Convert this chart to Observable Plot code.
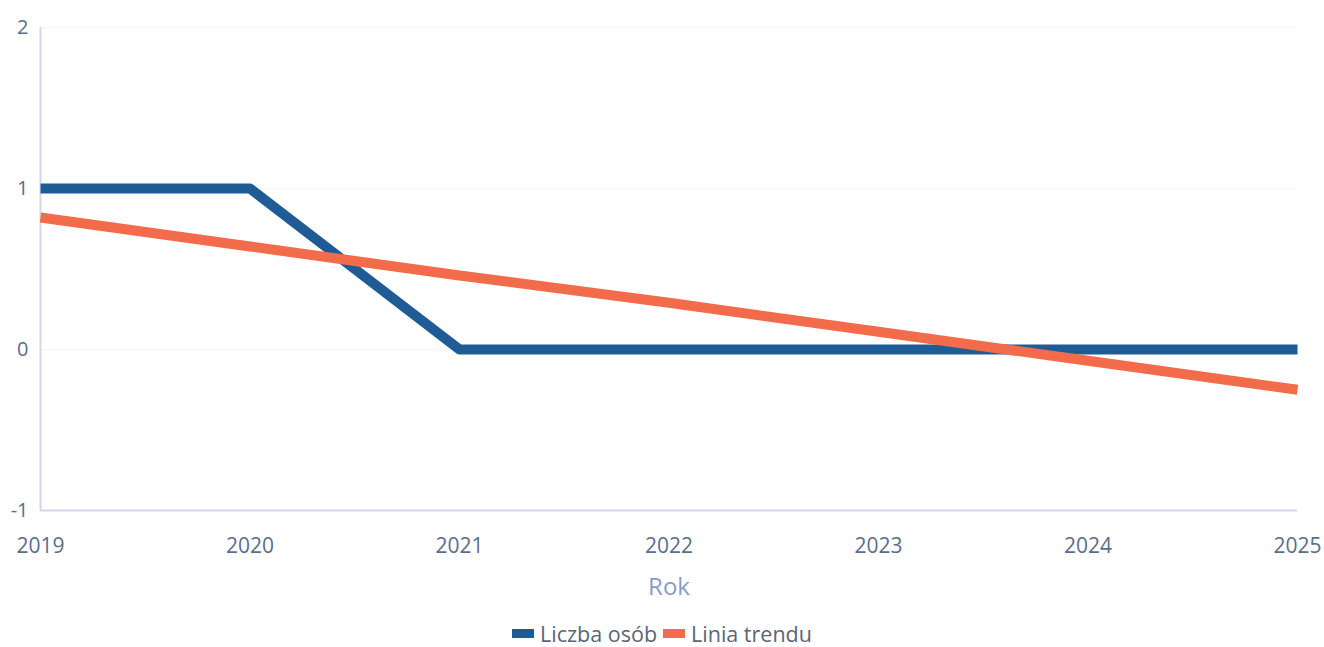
<!DOCTYPE html>
<html>
<head>
<meta charset="utf-8">
<script src="https://cdn.jsdelivr.net/npm/d3@7"></script>
<script src="https://cdn.jsdelivr.net/npm/@observablehq/plot@0.6"></script>
<style>
  html, body { margin: 0; padding: 0; background: #fff; }
  body { width: 1324px; height: 647px; overflow: hidden; font-family: "Open Sans", sans-serif; }
  #legend { display: flex; justify-content: center; align-items: center; gap: 6px; font-size: 21.5px; color: #5b6577; margin-top: 14px; }
  .sw { display: inline-block; width: 22px; height: 9px; margin-right: 6px; vertical-align: middle; }
  .item { display: flex; align-items: center; }
</style>
</head>
<body>
<div id="chart"></div>
<div id="legend"></div>
<script>
const years = [2019, 2020, 2021, 2022, 2023, 2024, 2025];
const liczbaOsob = [1, 1, 0, 0, 0, 0, 0];
const liniaTrendu = [0.82, 0.64, 0.46, 0.29, 0.11, -0.07, -0.25];
const yTicks = [-1, 0, 1, 2];
const seriesNames = ["Liczba osób", "Linia trendu"];
const seriesColors = ["#1f5c96", "#f26b4a"];

const rows = [];
years.forEach((y, i) => {
  rows.push({year: y, value: liczbaOsob[i], series: seriesNames[0]});
  rows.push({year: y, value: liniaTrendu[i], series: seriesNames[1]});
});

const plot = Plot.plot({
  width: 1324,
  height: 605,
  marginLeft: 40,
  marginRight: 27,
  marginTop: 27,
  marginBottom: 95,
  style: {fontFamily: "'Open Sans', sans-serif", fontSize: "20px", color: "#5a6e8a", background: "#fff"},
  x: {domain: [2019, 2025], label: null},
  y: {domain: [-1, 2], label: null},
  color: {domain: seriesNames, range: seriesColors},
  marks: [
    Plot.gridY(yTicks, {stroke: "#f7f7f9", strokeOpacity: 1, strokeWidth: 2}),
    Plot.ruleY([-1], {stroke: "#d3d7ea", strokeWidth: 2}),
    Plot.ruleX([2019], {stroke: "#d3d7ea", strokeWidth: 2}),
    Plot.axisX({ticks: years, tickFormat: d => String(d), tickSize: 0, tickPadding: 28, fontSize: 21, fill: "#5a6e8a", label: null}),
    Plot.axisY({ticks: yTicks, tickFormat: d => String(d), tickSize: 0, tickPadding: 12, fontSize: 20, fill: "#5a6e8a", label: null}),
    Plot.text(["Rok"], {frameAnchor: "bottom", dy: 84, fontSize: 24, fill: "#8a9cc6"}),
    Plot.line(rows, {x: "year", y: "value", stroke: "series", z: "series", strokeWidth: 10, strokeLinecap: "butt", strokeLinejoin: "round"})
  ]
});
document.getElementById("chart").appendChild(plot);

const legend = document.getElementById("legend");
seriesNames.forEach((n, i) => {
  const it = document.createElement("span");
  it.className = "item";
  const sw = document.createElement("span");
  sw.className = "sw";
  sw.style.background = seriesColors[i];
  it.appendChild(sw);
  it.appendChild(document.createTextNode(n));
  legend.appendChild(it);
});
</script>
</body>
</html>
